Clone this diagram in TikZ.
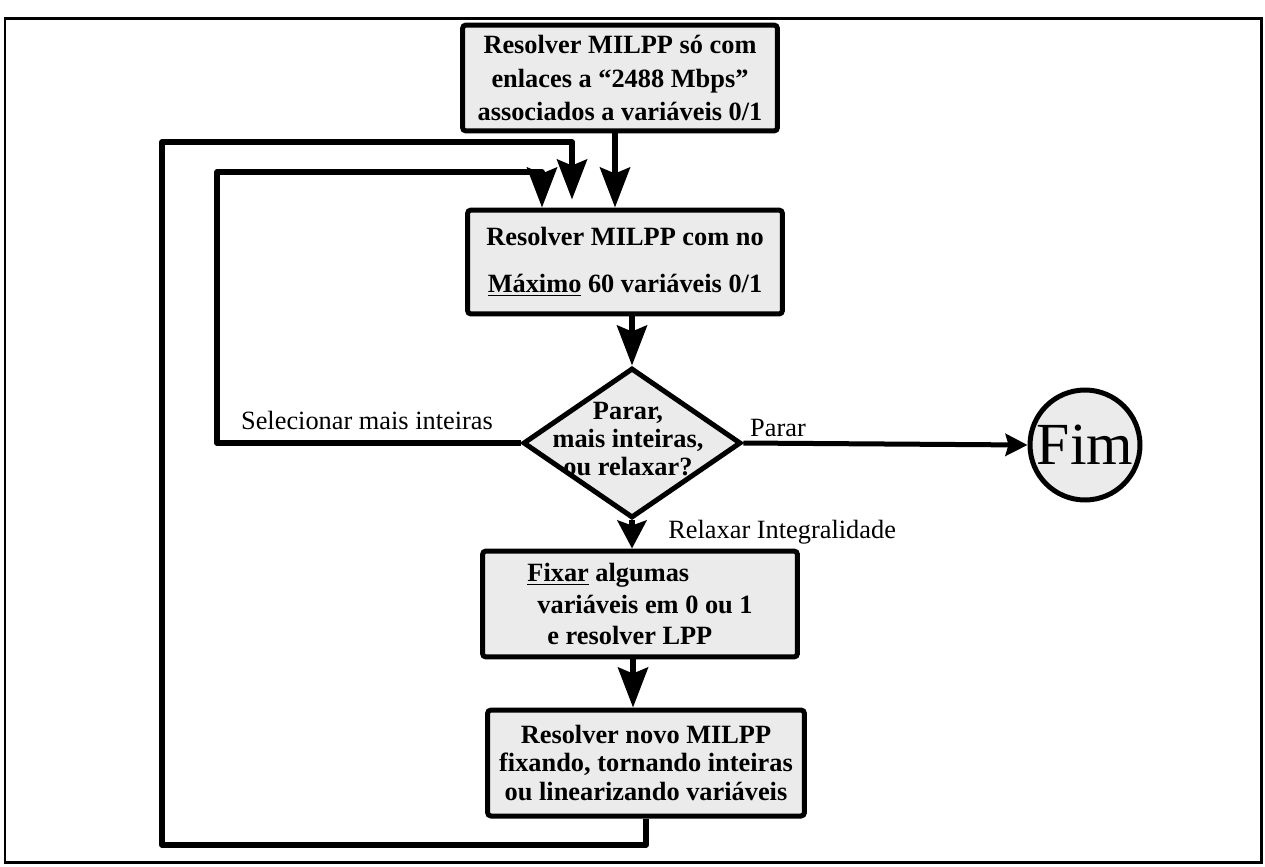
\documentclass[tikz,border=0pt]{standalone}
\usepackage{fontspec}
\setmainfont{Liberation Serif}
\usetikzlibrary{arrows.meta,shapes.geometric}

\begin{document}
\begin{tikzpicture}[x=0.02cm,y=-0.02cm,
    box/.style={draw, line width=0.1cm, fill=black!8, rounded corners=2pt,
        minimum width=6.3cm, minimum height=2.12cm, inner sep=0pt, align=center,
        font=\fontsize{15}{19}\selectfont\bfseries},
    decision/.style={draw, diamond, line width=0.1cm, fill=black!8,
        minimum width=4.36cm, minimum height=3cm, inner sep=0pt},
    endcircle/.style={draw, circle, line width=0.1cm, fill=black!8,
        minimum size=2.2cm, inner sep=0pt, font=\fontsize{34}{34}\selectfont},
    lbl/.style={inner sep=0pt, font=\fontsize{15}{18}\selectfont},
    arr/.style={line width=0.11cm, line join=round,
        -{Stealth[length=0.8cm, width=0.6cm, inset=0.12cm]}},
    shortarr/.style={line width=0.11cm,
        -{Stealth[length=0.56cm, width=0.58cm, inset=0.1cm]}},
    endarr/.style={line width=0.1cm,
        -{Stealth[length=0.44cm, width=0.44cm, inset=0.06cm]}}]

    \useasboundingbox (0,0) rectangle (1265,866);
    % moldura
    \draw[line width=0.06cm] (5,18) rectangle (1261,862);

    % caixas do fluxo
    \node[box] (solveall) at (620,78)
        {Resolver MILPP só com\\enlaces a “2488 Mbps”\\associados a variáveis 0/1};
    \node[box, minimum height=2.08cm, font=\fontsize{15}{27}\selectfont\bfseries] (solvemax) at (625,262)
        {Resolver MILPP com no\\\underline{Máximo} 60 variáveis 0/1};
    \node[decision] (decide) at (632,443) {};
    \node[lbl, align=center, font=\fontsize{15}{16}\selectfont\bfseries] (asktxt) at (628,439)
        {Parar,\\mais inteiras,\\ou relaxar?};
    \node[box, align=left, font=\fontsize{15}{18}\selectfont\bfseries] (fixvars) at (640,604)
        {\underline{Fixar} algumas\\\hspace*{0.2cm}variáveis em 0 ou 1\\\hspace*{0.4cm}e resolver LPP};
    \node[box, minimum width=6.34cm, font=\fontsize{15}{16.5}\selectfont\bfseries] (newmilpp) at (646,763)
        {Resolver novo MILPP\\fixando, tornando inteiras\\ou linearizando variáveis};
    \node[endcircle] (fim) at (1085,445) {Fim};

    % pontos de retorno
    \coordinate (innerback) at (542,172);
    \coordinate (outerback) at (572,142);
    \coordinate (innerlane) at (217,0);
    \coordinate (outerlane) at (162,845);

    % ligacoes
    \draw[arr] ([xshift=-0.1cm]solveall.south) -- ([xshift=-0.1cm]solveall.south |- solvemax.north);
    \draw[arr] (solvemax.south -| decide.north) -- (decide.north);
    \draw[shortarr] (decide.south) -- (decide.south |- fixvars.north);
    \draw[arr] ([xshift=-0.14cm]fixvars.south) -- ([xshift=-0.14cm]fixvars.south |- newmilpp.north);
    \draw[endarr] (decide.east) -- (fim.west);
    \draw[arr] (decide.west) -| (innerlane |- innerback) -- (innerback) -- (innerback |- solvemax.north);
    \draw[arr, shorten >=0.16cm] (newmilpp.south) |- (outerlane) |- (outerback) -- (outerback |- solvemax.north);

    % rotulos
    \node[lbl] (morelbl) at (367,420) {Selecionar mais inteiras};
    \node[lbl] (stoplbl) at (778,428) {Parar};
    \node[lbl, anchor=west] (relaxlbl) at (668,532) {Relaxar Integralidade};
\end{tikzpicture}
\end{document}
